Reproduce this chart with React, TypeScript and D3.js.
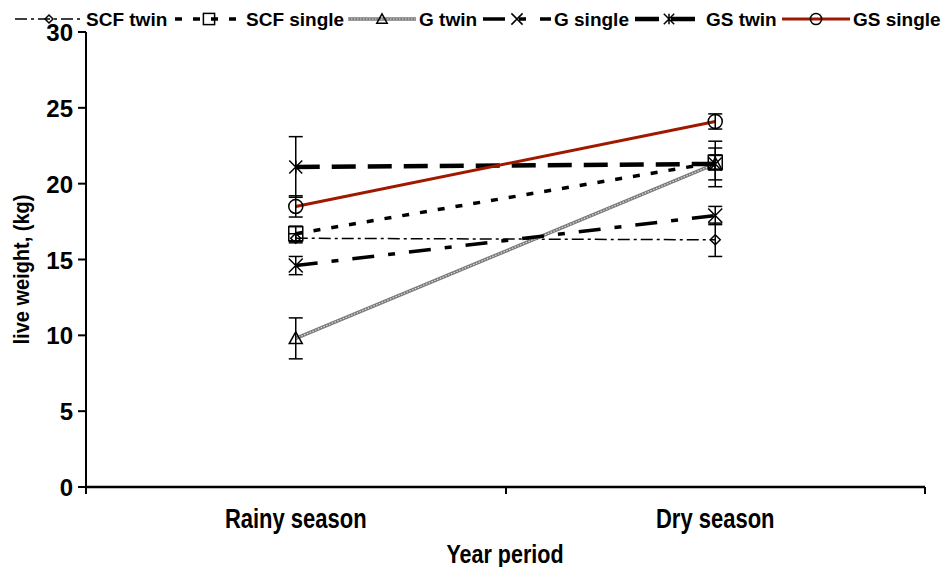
import React from "react";
import * as d3 from "d3";

const categories = ["Rainy season", "Dry season"];
const yTicks = [0, 5, 10, 15, 20, 25, 30];
const seriesNames = ["SCF twin", "SCF single", "G twin", "G single", "GS twin", "GS single"];
const scfTwin = [16.4, 16.3];
const scfSingle = [16.7, 21.4];
const gTwin = [9.8, 21.3];
const gSingle = [14.6, 17.9];
const gsTwin = [21.1, 21.3];
const gsSingle = [18.5, 24.1];
const scfTwinErr = [0.3, 1.1];
const scfSingleErr = [0.5, 0.5];
const gTwinErr = [1.35, 1.5];
const gSingleErr = [0.6, 0.6];
const gsTwinErr = [2.0, 1.05];
const gsSingleErr = [0.7, 0.5];

type Style = { color: string; width: number; dash: string; marker: string; textured?: boolean };
const styles: Style[] = [
  { color: "#000", width: 1.5, dash: "12 4 3 4", marker: "diamond" },
  { color: "#000", width: 3.5, dash: "7 11", marker: "square" },
  { color: "#8a8a8a", width: 3.5, dash: "", marker: "triangle", textured: true },
  { color: "#000", width: 3.5, dash: "22 14 7 14", marker: "x" },
  { color: "#000", width: 4.5, dash: "24 12", marker: "star" },
  { color: "#a01800", width: 3, dash: "", marker: "circle" },
];
const values = [scfTwin, scfSingle, gTwin, gSingle, gsTwin, gsSingle];
const errors = [scfTwinErr, scfSingleErr, gTwinErr, gSingleErr, gsTwinErr, gsSingleErr];
const legendX = [15, 175, 348, 483, 635, 782];

const FONT = "'Liberation Sans', Arial, sans-serif";

function Marker({ kind, x, y, s = 1 }: { kind: string; x: number; y: number; s?: number }) {
  const p = { fill: "none", stroke: "#000", strokeWidth: 1.5 };
  if (kind === "diamond") {
    const r = 5 * s;
    return <path d={`M${x - r},${y}L${x},${y - r}L${x + r},${y}L${x},${y + r}Z`} {...p} />;
  }
  if (kind === "square") {
    const r = 7 * s;
    return <rect x={x - r} y={y - r} width={2 * r} height={2 * r} {...p} />;
  }
  if (kind === "triangle") {
    const r = 6.5 * s;
    return <path d={`M${x},${y - r}L${x + r},${y + r * 0.8}L${x - r},${y + r * 0.8}Z`} {...p} />;
  }
  if (kind === "x") {
    const r = 7 * s;
    return <path d={`M${x - r},${y - r}L${x + r},${y + r}M${x - r},${y + r}L${x + r},${y - r}`} {...p} />;
  }
  if (kind === "star") {
    const r = 6.5 * s;
    return (
      <path
        d={`M${x - r},${y - r}L${x + r},${y + r}M${x - r},${y + r}L${x + r},${y - r}M${x},${y - r}L${x},${y + r}`}
        {...p}
      />
    );
  }
  return <circle cx={x} cy={y} r={7 * s} {...p} />;
}

function SeriesLine({ d, st }: { d: string; st: Style }) {
  if (st.textured) {
    return (
      <g>
        <path d={d} fill="none" stroke="#7a7a7a" strokeWidth={st.width} />
        <path d={d} fill="none" stroke="#dcdcdc" strokeWidth={1.2} strokeDasharray="1.5 1.5" />
      </g>
    );
  }
  return <path d={d} fill="none" stroke={st.color} strokeWidth={st.width} strokeDasharray={st.dash || undefined} />;
}

export default function App() {
  const W = 945;
  const H = 567;
  const left = 86;
  const right = 925;
  const top = 32;
  const bottom = 487;
  const x = d3.scalePoint<string>().domain(categories).range([left, right]).padding(0.5);
  const y = d3.scaleLinear().domain([0, 30]).range([bottom, top]);
  const line = d3
    .line<number>()
    .x((_, i) => x(categories[i])!)
    .y((v) => y(v));

  return (
    <svg width={W} height={H} style={{ position: "absolute", left: 0, top: 0, background: "#fff" }}>
      <rect width={W} height={H} fill="#fff" />
      <line x1={left} x2={left} y1={top} y2={bottom} stroke="#000" strokeWidth={2} />
      <line x1={left} x2={right} y1={bottom} y2={bottom} stroke="#000" strokeWidth={2.5} />
      {yTicks.map((t) => (
        <g key={t}>
          <line x1={left - 8} x2={left} y1={y(t)} y2={y(t)} stroke="#000" strokeWidth={2} />
          <text x={left - 13} y={y(t) + 9} textAnchor="end" fontFamily={FONT} fontWeight="bold" fontSize={24}>
            {t}
          </text>
        </g>
      ))}
      {[left, (left + right) / 2 + 0.5, right].map((t, i) => (
        <line key={i} x1={t} x2={t} y1={bottom} y2={bottom + 7} stroke="#000" strokeWidth={2} />
      ))}
      {categories.map((c) => (
        <text
          key={c}
          transform={`translate(${x(c)},528) scale(1,1.22)`}
          textAnchor="middle"
          fontFamily={FONT}
          fontWeight="bold"
          fontSize={22}
        >
          {c}
        </text>
      ))}
      <text transform="translate(505,563) scale(1,1.2)" textAnchor="middle" fontFamily={FONT} fontWeight="bold" fontSize={21.5}>
        Year period
      </text>
      <text
        transform={`translate(29,${(top + bottom) / 2 + 10}) rotate(-90) scale(1,1.1)`}
        textAnchor="middle"
        fontFamily={FONT}
        fontWeight="bold"
        fontSize={20}
      >
        live weight, (kg)
      </text>
      {values.map((v, i) => (
        <SeriesLine key={i} d={line(v)!} st={styles[i]} />
      ))}
      {values.map((v, i) =>
        v.map((val, j) => {
          const cx = x(categories[j])!;
          const e = errors[i][j];
          const y1 = y(val - e);
          const y2 = y(val + e);
          return (
            <g key={`${i}-${j}`} stroke="#000" strokeWidth={1.5}>
              <line x1={cx} x2={cx} y1={y1} y2={y2} />
              <line x1={cx - 7} x2={cx + 7} y1={y1} y2={y1} />
              <line x1={cx - 7} x2={cx + 7} y1={y2} y2={y2} />
            </g>
          );
        })
      )}
      {values.map((v, i) =>
        v.map((val, j) => <Marker key={`m${i}-${j}`} kind={styles[i].marker} x={x(categories[j])!} y={y(val)} />)
      )}
      {seriesNames.map((n, i) => {
        const lx = legendX[i];
        const st = styles[i];
        const ly = 19;
        return (
          <g key={n}>
            <SeriesLine d={`M${lx},${ly}L${lx + 68},${ly}`} st={st} />
            <Marker kind={st.marker} x={lx + 34} y={ly} s={0.8} />
            <text x={lx + 71} y={ly + 7} fontFamily={FONT} fontWeight="bold" fontSize={19}>
              {n}
            </text>
          </g>
        );
      })}
    </svg>
  );
}
